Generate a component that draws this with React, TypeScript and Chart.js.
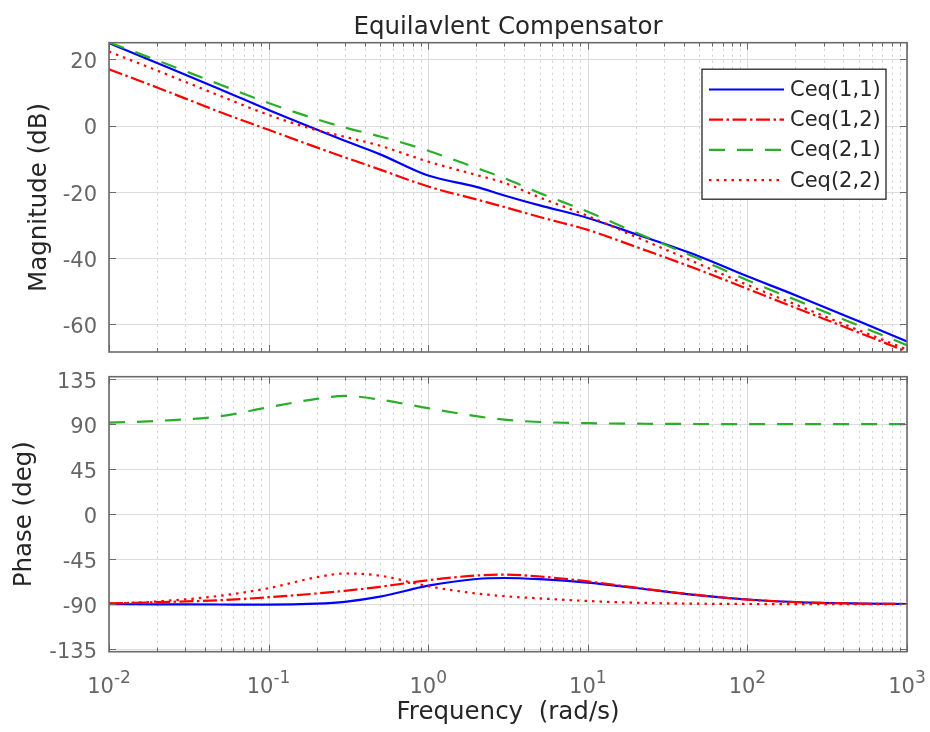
import React, { useEffect, useRef } from 'react';
import { Chart, registerables } from 'chart.js';

Chart.register(...registerables);

// ---------------- data ----------------
const TITLE = 'Equilavlent Compensator';
const X_LABEL = 'Frequency  (rad/s)';
const MAG_LABEL = 'Magnitude (dB)';
const PHASE_LABEL = 'Phase (deg)';
const SERIES_NAMES = ['Ceq(1,1)', 'Ceq(1,2)', 'Ceq(2,1)', 'Ceq(2,2)'];

const FREQ = [0.01, 0.02, 0.05, 0.1, 0.2, 0.3, 0.5, 1, 2, 3, 5, 10, 20, 50, 100, 200, 500, 1000];

const MAG_11 = [24.9, 18.9, 10.9, 4.7, -1.2, -4.6, -8.7, -15.1, -18.5, -21.1, -24.1, -27.9, -32.8, -39.5, -45.5, -51.2, -59.1, -65.2];
const MAG_12 = [17.0, 11.5, 4.0, -1.3, -6.6, -9.6, -13.3, -18.4, -22.3, -24.6, -27.6, -31.5, -36.6, -43.6, -49.3, -55.0, -62.5, -68.3];
const MAG_21 = [25.1, 19.7, 12.3, 6.8, 1.9, -0.6, -3.3, -7.6, -12.8, -15.9, -20.4, -26.0, -32.3, -40.3, -46.7, -52.6, -60.4, -66.3];
const MAG_22 = [22.3, 16.6, 8.9, 3.2, -1.4, -3.4, -6.1, -10.9, -14.9, -17.3, -21.7, -27.3, -33.6, -41.8, -48.1, -54.0, -61.8, -67.6];

const PH_11 = [-90.0, -90.1, -90.3, -90.4, -89.4, -87.6, -82.5, -71.5, -64.8, -63.8, -65.0, -68.4, -73.8, -81.2, -85.3, -87.8, -89.3, -89.8];
const PH_12 = [-89.2, -88.0, -86.0, -83.0, -79.3, -76.6, -72.6, -66.0, -61.3, -60.4, -62.3, -67.2, -73.5, -81.0, -85.4, -88.0, -89.4, -89.8];
const PH_21 = [91.5, 93.3, 98.0, 107.0, 115.3, 118.3, 114.5, 106.0, 98.0, 94.5, 92.2, 91.0, 90.5, 90.2, 90.1, 90.0, 90.0, 90.0];
const PH_22 = [-89.5, -87.3, -81.5, -74.0, -63.0, -59.3, -61.5, -72.0, -79.3, -82.0, -84.2, -86.8, -88.5, -89.5, -89.8, -90.0, -90.0, -90.0];

const MAG_TICKS = [-60, -40, -20, 0, 20];
const PHASE_TICKS = [-135, -90, -45, 0, 45, 90, 135];
const X_DECADES = [-2, -1, 0, 1, 2, 3];
const MAG_MIN = -68.35;
const MAG_MAX = 25.0;
const PHASE_MIN = -137.5;
const PHASE_MAX = 137.5;
const FREQ_MIN = 0.01;
const FREQ_MAX = 1000;

// ---------------- styles ----------------
const FONT = '"DejaVu Sans", "Liberation Sans", sans-serif';
const COLORS = ['#0000ff', '#ff0000', '#2aae2a', '#ff0000'];
const DASHES = [[], [14, 3.5, 2.5, 3.5], [16, 12], [2.5, 5]];
const TICK_COLOR = '#666666';
const LABEL_COLOR = '#262626';
const AXIS_COLOR = '#6a6a6a';
const MAJOR_GRID = '#dcdcdc';
const MINOR_GRID = '#cfcfcf';

const snap = (v: number) => Math.round(v) + 0.5;

function makeDatasets(series: number[][]) {
  return series.map((vals, i) => ({
    label: SERIES_NAMES[i],
    data: FREQ.map((f, j) => ({ x: f, y: vals[j] })),
    borderColor: COLORS[i],
    backgroundColor: COLORS[i],
    borderWidth: 2.2,
    borderDash: DASHES[i],
    pointRadius: 0,
    pointHoverRadius: 0,
    cubicInterpolationMode: 'monotone' as const,
    fill: false,
    order: 4 - i,
  }));
}

const gridPlugin = {
  id: 'matlabGrid',
  beforeDatasetsDraw(chart: any) {
    const { ctx, chartArea: a, scales } = chart;
    const x = scales.x;
    const y = scales.y;
    ctx.save();
    ctx.lineWidth = 1;
    ctx.strokeStyle = MINOR_GRID;
    ctx.setLineDash([2, 4]);
    for (let d = X_DECADES[0]; d < X_DECADES[X_DECADES.length - 1]; d++) {
      for (let m = 2; m <= 9; m++) {
        const px = snap(x.getPixelForValue(m * Math.pow(10, d)));
        ctx.beginPath();
        ctx.moveTo(px, a.top);
        ctx.lineTo(px, a.bottom);
        ctx.stroke();
      }
    }
    ctx.setLineDash([]);
    ctx.strokeStyle = MAJOR_GRID;
    X_DECADES.forEach((d) => {
      const px = snap(x.getPixelForValue(Math.pow(10, d)));
      ctx.beginPath();
      ctx.moveTo(px, a.top);
      ctx.lineTo(px, a.bottom);
      ctx.stroke();
    });
    y.ticks.forEach((t: any) => {
      const py = snap(y.getPixelForValue(t.value));
      ctx.beginPath();
      ctx.moveTo(a.left, py);
      ctx.lineTo(a.right, py);
      ctx.stroke();
    });
    ctx.restore();
  },
  afterDatasetsDraw(chart: any) {
    const { ctx, chartArea: a, scales } = chart;
    const x = scales.x;
    const y = scales.y;
    ctx.save();
    ctx.strokeStyle = AXIS_COLOR;
    ctx.lineWidth = 1;
    ctx.setLineDash([]);
    const tick = (x1: number, y1: number, x2: number, y2: number) => {
      ctx.beginPath();
      ctx.moveTo(x1, y1);
      ctx.lineTo(x2, y2);
      ctx.stroke();
    };
    for (let d = X_DECADES[0]; d < X_DECADES[X_DECADES.length - 1]; d++) {
      for (let m = 2; m <= 9; m++) {
        const px = snap(x.getPixelForValue(m * Math.pow(10, d)));
        tick(px, a.top, px, a.top + 4);
        tick(px, a.bottom, px, a.bottom - 4);
      }
    }
    X_DECADES.forEach((d) => {
      const px = snap(x.getPixelForValue(Math.pow(10, d)));
      tick(px, a.top, px, a.top + 7);
      tick(px, a.bottom, px, a.bottom - 7);
    });
    y.ticks.forEach((t: any) => {
      const py = snap(y.getPixelForValue(t.value));
      tick(a.left, py, a.left + 7, py);
      tick(a.right, py, a.right - 7, py);
    });
    ctx.lineWidth = 1.6;
    ctx.strokeRect(a.left, a.top, a.right - a.left, a.bottom - a.top);
    ctx.restore();
  },
};

const legendPlugin = {
  id: 'boxLegend',
  afterDatasetsDraw(chart: any) {
    const { ctx, chartArea: a } = chart;
    const bx = a.right - 21;
    const left = bx - 184;
    const top = a.top + 26.5;
    const h = 130;
    ctx.save();
    ctx.fillStyle = '#ffffff';
    ctx.fillRect(left, top, 184, h);
    ctx.strokeStyle = '#262626';
    ctx.lineWidth = 1.3;
    ctx.setLineDash([]);
    ctx.strokeRect(left, top, 184, h);
    ctx.font = `21px ${FONT}`;
    ctx.textBaseline = 'middle';
    ctx.textAlign = 'left';
    chart.data.datasets.forEach((ds: any, i: number) => {
      const ry = top + 20.3 + i * 30.2;
      ctx.strokeStyle = ds.borderColor;
      ctx.lineWidth = 2.2;
      ctx.setLineDash(ds.borderDash || []);
      ctx.beginPath();
      ctx.moveTo(left + 7, ry);
      ctx.lineTo(left + 82, ry);
      ctx.stroke();
      ctx.setLineDash([]);
      ctx.fillStyle = LABEL_COLOR;
      ctx.fillText(ds.label, left + 88, ry + 1);
    });
    ctx.restore();
  },
};

const titlePlugin = {
  id: 'topTitle',
  afterDraw(chart: any) {
    const { ctx, chartArea: a } = chart;
    ctx.save();
    ctx.font = `24.5px ${FONT}`;
    ctx.fillStyle = LABEL_COLOR;
    ctx.textAlign = 'center';
    ctx.textBaseline = 'alphabetic';
    ctx.fillText(TITLE, (a.left + a.right) / 2, 33.5);
    ctx.restore();
  },
};

const xAxisTextPlugin = {
  id: 'xAxisText',
  afterDraw(chart: any) {
    const { ctx, chartArea: a, scales } = chart;
    const x = scales.x;
    ctx.save();
    ctx.fillStyle = TICK_COLOR;
    ctx.textBaseline = 'alphabetic';
    ctx.textAlign = 'left';
    X_DECADES.forEach((d) => {
      const px = x.getPixelForValue(Math.pow(10, d));
      const base = '10';
      const exp = String(d);
      ctx.font = `21px ${FONT}`;
      const w1 = ctx.measureText(base).width;
      ctx.font = `17px ${FONT}`;
      const w2 = ctx.measureText(exp).width;
      const start = px - (w1 + w2) / 2;
      ctx.font = `21px ${FONT}`;
      ctx.fillText(base, start, a.bottom + 41.6);
      ctx.font = `17px ${FONT}`;
      ctx.fillText(exp, start + w1, a.bottom + 31.6);
    });
    ctx.font = `24.5px ${FONT}`;
    ctx.fillStyle = LABEL_COLOR;
    ctx.textAlign = 'center';
    ctx.fillText(X_LABEL, (a.left + a.right) / 2, a.bottom + 67.3);
    ctx.restore();
  },
};

function zeroPadding(s: any) {
  s.paddingTop = 0;
  s.paddingBottom = 0;
  s.paddingLeft = 0;
  s.paddingRight = 0;
}

function yScale(min: number, max: number, ticks: number[], label: string, titlePad: number) {
  return {
    type: 'linear' as const,
    min,
    max,
    afterBuildTicks: (s: any) => {
      s.ticks = ticks.map((v) => ({ value: v }));
    },
    afterFit: (s: any) => {
      s.width = 109;
      zeroPadding(s);
    },
    ticks: {
      font: { family: FONT, size: 21 },
      color: TICK_COLOR,
      padding: 12,
      labelOffset: 3.5,
    },
    grid: { display: false, drawTicks: false },
    border: { display: false },
    title: {
      display: true,
      text: label,
      font: { family: FONT, size: 24.5 },
      color: LABEL_COLOR,
      padding: { top: titlePad, bottom: 0 },
    },
  };
}

function xScale() {
  return {
    type: 'logarithmic' as const,
    min: FREQ_MIN,
    max: FREQ_MAX,
    ticks: { display: false },
    grid: { display: false, drawTicks: false },
    border: { display: false },
    afterFit: (s: any) => {
      s.height = 0;
      zeroPadding(s);
    },
  };
}

function baseOptions(padding: any, yOpts: any) {
  return {
    animation: false as const,
    responsive: false,
    events: [] as any[],
    layout: { padding },
    plugins: {
      legend: { display: false },
      tooltip: { enabled: false },
      title: { display: false },
    },
    scales: { x: xScale(), y: yOpts },
  };
}

export default function App() {
  const magRef = useRef<HTMLCanvasElement>(null);
  const phRef = useRef<HTMLCanvasElement>(null);

  useEffect(() => {
    const c1 = new Chart(magRef.current as HTMLCanvasElement, {
      type: 'line',
      data: { datasets: makeDatasets([MAG_11, MAG_12, MAG_21, MAG_22]) as any },
      options: baseOptions(
        { left: 0, right: 23, top: 42.7, bottom: 13 },
        yScale(MAG_MIN, MAG_MAX, MAG_TICKS, MAG_LABEL, 24.5)
      ) as any,
      plugins: [gridPlugin, legendPlugin, titlePlugin],
    });
    const c2 = new Chart(phRef.current as HTMLCanvasElement, {
      type: 'line',
      data: { datasets: makeDatasets([PH_11, PH_12, PH_21, PH_22]) as any },
      options: baseOptions(
        { left: 0, right: 23, top: 11.7, bottom: 80.3 },
        yScale(PHASE_MIN, PHASE_MAX, PHASE_TICKS, PHASE_LABEL, 10)
      ) as any,
      plugins: [gridPlugin, xAxisTextPlugin],
    });
    return () => {
      c1.destroy();
      c2.destroy();
    };
  }, []);

  return (
    <div style={{ position: 'fixed', left: 0, top: 0, width: 930, height: 732, background: '#ffffff' }}>
      <canvas ref={magRef} width={930} height={365} style={{ position: 'absolute', left: 0, top: 0 }} />
      <canvas ref={phRef} width={930} height={367} style={{ position: 'absolute', left: 0, top: 365 }} />
    </div>
  );
}
